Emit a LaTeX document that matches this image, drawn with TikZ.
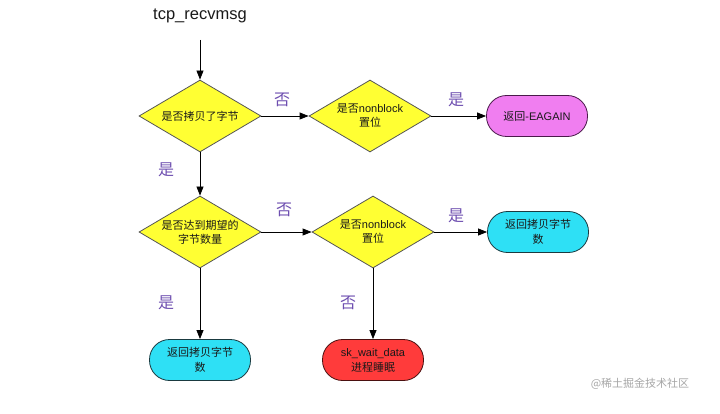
\documentclass[tikz,border=0pt]{standalone}
\usepackage{fontspec}
\setmainfont{Liberation Sans}
\newfontfamily\cjk{Noto Sans CJK SC}
\usetikzlibrary{shapes.geometric,arrows.meta}
\definecolor{dyellow}{HTML}{FFFF33}
\definecolor{dborder}{HTML}{555555}
\definecolor{lblpurple}{HTML}{6E4FB0}
\definecolor{pinkbox}{HTML}{F07EF0}
\definecolor{pinkborder}{HTML}{4A1A4A}
\definecolor{cyanbox}{HTML}{2EE0F5}
\definecolor{cyanborder}{HTML}{1A3A40}
\definecolor{redbox}{HTML}{FF3B3B}
\definecolor{redborder}{HTML}{4A1010}
\tikzset{
  decision/.style={diamond, draw=dborder, line width=0.8pt, fill=dyellow, aspect=1.7,
    minimum width=122pt, minimum height=72pt, inner sep=0pt, align=center,
    font=\fontsize{11}{14}\selectfont, text=black!90},
  endbox/.style={draw, line width=0.8pt, rounded corners=20pt, minimum width=101pt,
    minimum height=41pt, align=center, font=\fontsize{11}{15}\selectfont, text=black!90},
  arr/.style={-{Triangle[length=9pt,width=7pt]}, line width=0.8pt},
  yn/.style={text=lblpurple, font=\cjk\fontsize{16}{16}\selectfont},
}
\begin{document}
\begin{tikzpicture}[x=1pt,y=-1pt]
\useasboundingbox (0,0) rectangle (720,414);
\node[font=\fontsize{16.5}{17}\selectfont, text=black!90] (start) at (200,16) {tcp\_recvmsg};
\coordinate (s0) at (200,40);
\node[decision] (d1) at (200,116) {{\cjk 是否拷贝了字节}};
\node[decision] (d2) at (370,116) {{\cjk 是否}nonblock\\{\cjk 置位}};
\node[decision] (d3) at (200,232) {{\cjk 是否达到期望的}\\{\cjk 字节数量}};
\node[decision] (d4) at (373,232) {{\cjk 是否}nonblock\\{\cjk 置位}};
\node[endbox, fill=pinkbox, draw=pinkborder] (eagain) at (537,116) {{\cjk 返回}-EAGAIN};
\node[endbox, fill=cyanbox, draw=cyanborder] (ret1) at (538,232) {{\cjk 返回拷贝字节}\\{\cjk 数}};
\node[endbox, fill=cyanbox, draw=cyanborder] (ret2) at (200,360) {{\cjk 返回拷贝字节}\\{\cjk 数}};
\node[endbox, fill=redbox, draw=redborder] (sleep) at (373,360) {sk\_wait\_data\\{\cjk 进程睡眠}};

\draw[arr] (s0) -- (d1.north);
\draw[arr] (d1.east) -- (d2.west);
\draw[arr] (d2.east) -- (eagain.west);
\draw[arr] (d1.south) -- (d3.north);
\draw[arr] (d3.east) -- (d4.west);
\draw[arr] (d4.east) -- (ret1.west);
\draw[arr] (d3.south) -- (ret2.north);
\draw[arr] (d4.south) -- (sleep.north);

\node[yn] (l1) at (282,100) {否};
\node[yn] (l2) at (456,100) {是};
\node[yn] (l3) at (166,170) {是};
\node[yn] (l4) at (284,210) {否};
\node[yn] (l5) at (456,216) {是};
\node[yn] (l6) at (166,303) {是};
\node[yn] (l7) at (348,303) {否};

\node[text=black!35, font=\cjk\fontsize{11}{11}\selectfont] (wm) at (640,384) {@稀土掘金技术社区};
\end{tikzpicture}
\end{document}
